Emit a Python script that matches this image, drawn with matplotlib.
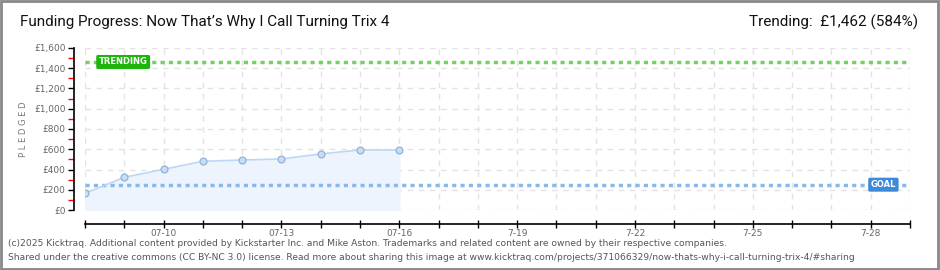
import matplotlib.pyplot as plt
from matplotlib.patches import Rectangle

# datos del proyecto
days = [8, 9, 10, 11, 12, 13, 14, 15, 16]
pledged = [165, 323, 402, 481, 494, 504, 554, 593, 593]
goal = 250
trending = 1462
tick_days = [10, 13, 16, 19, 22, 25, 28]
tick_labels = ['07-10', '07-13', '07-16', '7-19', '7-22', '7-25', '7-28']
y_ticks = [0, 200, 400, 600, 800, 1000, 1200, 1400, 1600]

title = "Funding Progress: Now That\u2019s Why I Call Turning Trix 4"
trend_text = "Trending:  \u00a31,462 (584%)"
footer1 = ("(c)2025 Kicktraq. Additional content provided by Kickstarter Inc. and Mike Aston. "
           "Trademarks and related content are owned by their respective companies.")
footer2 = ("Shared under the creative commons (CC BY-NC 3.0) license. Read more about sharing this image at "
           "www.kicktraq.com/projects/371066329/now-thats-why-i-call-turning-trix-4/#sharing")

fig = plt.figure(figsize=(9.4, 2.7), dpi=100)
ax = fig.add_axes([85 / 940, 60 / 270, 825 / 940, 162 / 270])

# area y linea
ax.fill_between(days, pledged, 0, color='#edf4fd', zorder=1)
ax.plot(days, pledged, color='#bcd8f6', lw=1.2, zorder=3)
ax.plot(days, pledged, 'o', ms=5, mfc='#c5ddf7', mec='#8eaed0', mew=0.8, zorder=4)

# lineas de meta y tendencia
ax.axhline(trending, color='#77cf66', lw=2.5, ls=(0, (1.2, 1.2)), zorder=2)
ax.axhline(goal, color='#88b9ea', lw=2.5, ls=(0, (1.2, 1.2)), zorder=2)
ax.text(8.35, trending, 'TRENDING', color='white', fontsize=6, fontweight='bold',
        va='center', ha='left', zorder=5,
        bbox=dict(boxstyle='round,pad=0.3,rounding_size=0.2', fc='#1db40c', ec='none'))
ax.text(28.0, goal, 'GOAL', color='white', fontsize=6, fontweight='bold',
        va='center', ha='left', zorder=5,
        bbox=dict(boxstyle='round,pad=0.3,rounding_size=0.2', fc='#3d8ad8', ec='none'))

ax.set_xlim(8, 29)
ax.set_ylim(0, 1600)

# ejes
ax.set_xticks(range(8, 30))
ax.set_xticklabels([])
for d, lab in zip(tick_days, tick_labels):
    ax.text(d, -0.115, lab, transform=ax.get_xaxis_transform(), ha='center', va='top',
            fontsize=6.5, color='#666666')
ax.tick_params(axis='x', which='major', direction='inout', length=6, width=1, color='black')

ax.set_yticks(y_ticks)
ax.set_yticklabels(['\u00a3{:,}'.format(v) for v in y_ticks])
ax.set_yticks(range(100, 1600, 200), minor=True)
ax.tick_params(axis='y', which='major', direction='out', length=4, width=1, color='black', pad=2,
               labelsize=6.5, labelcolor='#666666')
ax.tick_params(axis='y', which='minor', direction='out', length=4, width=1, color='red')

ax.spines['top'].set_visible(False)
ax.spines['right'].set_visible(False)
ax.spines['left'].set_position(('outward', 8))
ax.spines['bottom'].set_position(('outward', 10))
ax.spines['left'].set_linewidth(1.2)
ax.spines['bottom'].set_linewidth(1.2)

ax.grid(True, which='major', color='#e3e3e3', lw=1, ls=(0, (4, 4)), zorder=0)
ax.set_axisbelow(True)

ax.set_ylabel('P L E D G E D', fontsize=6, color='#777777', labelpad=4)

# textos de cabecera y pie
fig.text(20 / 940, 1 - 22 / 270, title, fontsize=11, family='Roboto', va='center', ha='left', color='#111111')
fig.text(918 / 940, 1 - 22 / 270, trend_text, fontsize=11, family='Roboto', va='center', ha='right',
         color='#111111')
fig.text(8 / 940, 1 - 243 / 270, footer1, fontsize=6.6, color='#555555', va='center', ha='left')
fig.text(8 / 940, 1 - 257 / 270, footer2, fontsize=6.6, color='#555555', va='center', ha='left')

fig.patches.append(Rectangle((0.001, 0.002), 0.997, 0.995, transform=fig.transFigure,
                             fill=False, ec='#888888', lw=2))

fig.savefig('out.png', dpi=100)
